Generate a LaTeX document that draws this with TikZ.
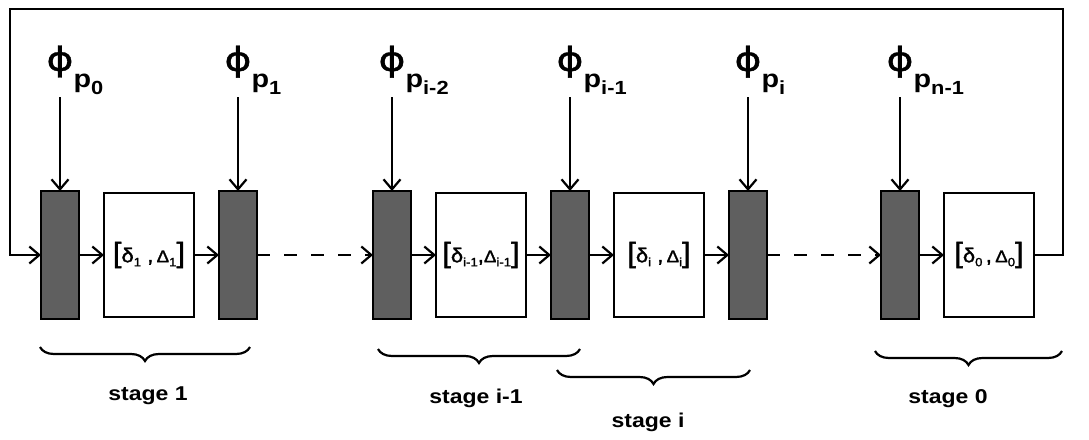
\documentclass[tikz,border=0pt]{standalone}
\usepackage{fontspec}
\setmainfont{Liberation Sans}[FakeStretch=1.15]
\newfontfamily\greekfont{DejaVu Sans}[FakeStretch=1.25, FakeBold=1]
\newfontfamily\boxfont{Liberation Sans}[FakeStretch=1.1, FakeBold=1.6]
\usetikzlibrary{arrows.meta, positioning, decorations.pathreplacing}
\definecolor{LatchGray}{RGB}{95,95,95}

% clock label phi_{p_x}, subscript hangs to the right
\newcommand{\phlabel}[1]{{\greekfont\fontsize{33}{33}\selectfont ϕ}\rlap{\raisebox{-17pt}{\bfseries\fontsize{25}{25}\selectfont p\raisebox{-7pt}{\fontsize{19}{19}\selectfont #1}}}}
% stage delay label [delta, Delta]
\newcommand{\dsub}[1]{\raisebox{-4pt}{\fontsize{12}{12}\selectfont #1}}
\newcommand{\dlabel}[3][\ ,\,]{{\fontsize{28}{28}\selectfont[}δ\dsub{#2}#1{\fontsize{17}{17}\selectfont Δ}\dsub{#3}{\fontsize{28}{28}\selectfont]}}

\begin{document}
\begin{tikzpicture}[x=1pt, y=-1pt,
    node distance=25pt,
    latch/.style={draw, line width=2.4pt, fill=LatchGray, minimum width=38pt,
                  minimum height=128pt, inner sep=0pt, outer sep=0pt},
    stagebox/.style={draw, line width=2.2pt, fill=white, minimum width=90pt,
                  minimum height=124pt, inner sep=0pt, outer sep=0pt,
                  font=\boxfont\fontsize{20}{20}\selectfont},
    philbl/.style={inner sep=2pt},
    arr/.style={-{Straight Barb[length=10pt, width=17pt]}, line width=2.2pt},
    gap/.style={dash pattern=on 13pt off 14pt},
    brc/.style={decorate, decoration={brace, mirror, amplitude=14pt}, line width=2.2pt},
    stagelbl/.style={font=\bfseries\fontsize{20}{24}\selectfont, anchor=base}
  ]
  \useasboundingbox (0,0) rectangle (1089,439);

  % pipeline row
  \node[latch] (l1) at (60,255) {};
  \node[stagebox, right=of l1] (b1) {\dlabel{1}{1}};
  \node[latch, right=of b1] (l2) {};
  \node[latch, right=116pt of l2] (l3) {};
  \node[stagebox, right=of l3] (b2) {\dlabel[,]{i-1}{i-1}};
  \node[latch, right=of b2] (l4) {};
  \node[stagebox, right=of l4] (b3) {\dlabel{i}{i}};
  \node[latch, right=of b3] (l5) {};
  \node[latch, right=114pt of l5] (l6) {};
  \node[stagebox, right=of l6] (b4) {\dlabel[\,,\,]{0}{0}};

  % clock inputs
  \foreach \l/\s in {l1/0, l2/1, l3/i-2, l4/i-1, l5/i, l6/n-1} {
    \node[philbl, above=94pt of \l] (ph-\l) {\phlabel{\s}};
    \draw[arr] (ph-\l.south) -- (\l.north);
  }

  % data path
  \foreach \a/\b in {l1/b1, b1/l2, l3/b2, b2/l4, l4/b3, b3/l5, l6/b4}
    \draw[arr] (\a) -- (\b);
  \draw[arr, gap] (l2) -- (l3);
  \draw[arr, gap] (l5) -- (l6);

  % feedback
  \coordinate (fbR) at (1063,9);
  \coordinate (fbL) at (10,9);
  \draw[arr] (b4.east) -| (fbR) -- (fbL) |- (l1.west);

  % stages
  \draw[brc] (40,347) -- (250,347);
  \node[stagelbl] (st1) at (148,400) {stage 1};
  \draw[brc] (378,349) -- (580,349);
  \node[stagelbl] (sti1) at (476,403) {stage i-1};
  \draw[brc] (557,370) -- (750,370);
  \node[stagelbl] (sti) at (648,427) {stage i};
  \draw[brc] (875,351) -- (1062,351);
  \node[stagelbl] (st0) at (948,403) {stage 0};
\end{tikzpicture}
\end{document}
